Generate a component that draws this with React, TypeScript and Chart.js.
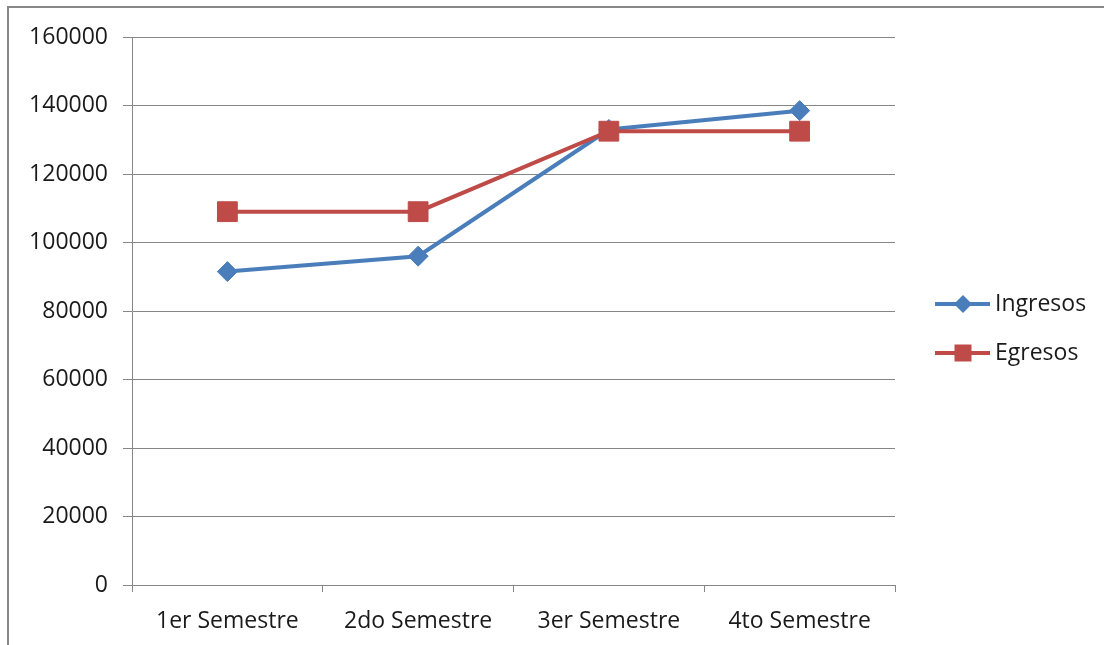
import React, { useEffect, useRef } from "react";
import { Chart, registerables } from "chart.js";

Chart.register(...registerables);

const categories = ["1er Semestre", "2do Semestre", "3er Semestre", "4to Semestre"];
const ingresos = [91500, 96000, 133000, 138500];
const egresos = [109000, 109000, 132500, 132500];
const seriesNames = ["Ingresos", "Egresos"];
const yTicksMax = 160000;
const yTickStep = 20000;

const BLUE = "#4A7EBB";
const RED = "#BE4B48";
const GRID = "#868686";
const FONT = "'Open Sans', sans-serif";
const TEXT = "#1a1a1a";
const FS = 23;

export default function App() {
  const ref = useRef<HTMLCanvasElement | null>(null);

  useEffect(() => {
    document.body.style.margin = "0";
    const canvas = ref.current;
    if (!canvas) return;

    const framePlugin = {
      id: "frame",
      beforeDraw(chart: any) {
        const ctx = chart.ctx;
        ctx.save();
        ctx.fillStyle = "#ffffff";
        ctx.fillRect(0, 0, chart.width, chart.height);
        ctx.strokeStyle = "#878787";
        ctx.lineWidth = 2;
        ctx.beginPath();
        ctx.moveTo(8, chart.height + 2);
        ctx.lineTo(8, 7);
        ctx.lineTo(chart.width + 2, 7);
        ctx.stroke();
        ctx.restore();
      },
      afterDraw(chart: any) {
        const ctx = chart.ctx;
        const rows = [
          { name: seriesNames[0], color: BLUE, shape: "diamond", y: 304 },
          { name: seriesNames[1], color: RED, shape: "square", y: 353 },
        ];
        ctx.save();
        rows.forEach((r) => {
          ctx.strokeStyle = r.color;
          ctx.lineWidth = 4;
          ctx.beginPath();
          ctx.moveTo(935, r.y);
          ctx.lineTo(990, r.y);
          ctx.stroke();
          ctx.fillStyle = r.color;
          ctx.beginPath();
          const cx = 963;
          if (r.shape === "diamond") {
            const s = 9;
            ctx.moveTo(cx - s, r.y);
            ctx.lineTo(cx, r.y - s);
            ctx.lineTo(cx + s, r.y);
            ctx.lineTo(cx, r.y + s);
            ctx.closePath();
          } else {
            const h = 8.5;
            ctx.rect(cx - h, r.y - h, 2 * h, 2 * h);
          }
          ctx.fill();
          ctx.fillStyle = TEXT;
          ctx.font = `${FS}px ${FONT}`;
          ctx.textBaseline = "middle";
          ctx.textAlign = "left";
          ctx.fillText(r.name, 995, r.y);
        });
        ctx.restore();
      },
    };

    const chart = new Chart(canvas, {
      type: "line",
      data: {
        labels: categories,
        datasets: [
          {
            label: seriesNames[0],
            data: ingresos,
            borderColor: BLUE,
            backgroundColor: BLUE,
            borderWidth: 4,
            pointStyle: "rectRot",
            pointRadius: 10,
            pointBorderWidth: 1,
            pointBackgroundColor: BLUE,
            pointBorderColor: BLUE,
            tension: 0,
            order: 1,
          },
          {
            label: seriesNames[1],
            data: egresos,
            borderColor: RED,
            backgroundColor: RED,
            borderWidth: 4,
            pointStyle: "rect",
            pointRadius: 14,
            pointBorderWidth: 1,
            pointBackgroundColor: RED,
            pointBorderColor: RED,
            tension: 0,
            order: 0,
          },
        ],
      },
      options: {
        animation: false,
        responsive: false,
        events: [],
        layout: { padding: { left: 0, top: 37, right: 209, bottom: 0 } },
        plugins: {
          legend: { display: false },
          tooltip: { enabled: false },
        },
        scales: {
          x: {
            offset: true,
            grid: {
              display: true,
              offset: true,
              drawOnChartArea: false,
              drawTicks: true,
              tickLength: 7,
              color: GRID,
            },
            border: { display: true, color: GRID, width: 1 },
            ticks: {
              color: TEXT,
              font: { family: FONT, size: FS },
              padding: 16,
              maxRotation: 0,
            },
            afterFit(axis: any) {
              axis.height = 60;
            },
          },
          y: {
            min: 0,
            max: yTicksMax,
            grid: {
              color: GRID,
              tickLength: 9,
              drawTicks: true,
            },
            border: { display: true, color: GRID, width: 1 },
            ticks: {
              stepSize: yTickStep,
              color: TEXT,
              font: { family: FONT, size: FS },
              padding: 15,
              callback: (v: any) => String(v),
            },
            afterFit(axis: any) {
              axis.width = 132;
            },
          },
        },
      },
      plugins: [framePlugin],
    });

    return () => chart.destroy();
  }, []);

  return (
    <div style={{ position: "absolute", left: 0, top: 0, width: 1104, height: 645 }}>
      <canvas ref={ref} width={1104} height={645} />
    </div>
  );
}
